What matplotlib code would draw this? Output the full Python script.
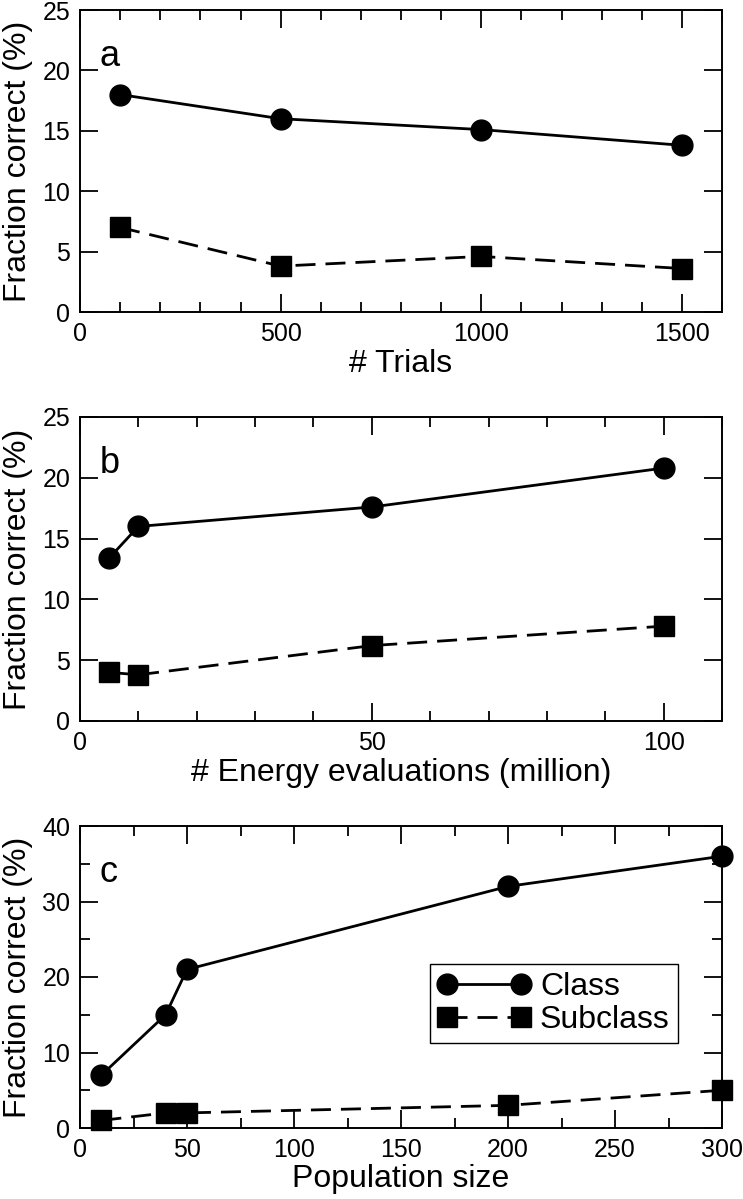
import matplotlib
matplotlib.use("Agg")
import matplotlib.pyplot as plt
from matplotlib.ticker import MultipleLocator

plt.rcParams['font.family'] = ['Liberation Sans', 'DejaVu Sans']

# panel a
trials = [100, 500, 1000, 1500]
trials_class = [18.0, 16.0, 15.1, 13.8]
trials_subclass = [7.0, 3.8, 4.6, 3.6]

# panel b
evals = [5, 10, 50, 100]
evals_class = [13.4, 16.0, 17.6, 20.8]
evals_subclass = [4.0, 3.8, 6.2, 7.8]

# panel c
popsize = [10, 40, 50, 200, 300]
pop_class = [7.0, 15.0, 21.0, 32.0, 36.0]
pop_subclass = [1.0, 2.0, 2.0, 3.0, 5.0]

W, H = 743, 1199
fig = plt.figure(figsize=(W / 100, H / 100), dpi=100)

left = 80 / W
width = 642 / W


def make_axes(top_px, bottom_px):
    return fig.add_axes([left, 1 - bottom_px / H, width, (bottom_px - top_px) / H])


def style_axes(ax, xlim, ylim, xmaj, xmin, ymaj, ymin, xlabel, letter):
    ax.set_xlim(*xlim)
    ax.set_ylim(*ylim)
    ax.xaxis.set_major_locator(MultipleLocator(xmaj))
    ax.xaxis.set_minor_locator(MultipleLocator(xmin))
    ax.yaxis.set_major_locator(MultipleLocator(ymaj))
    if ymin:
        ax.yaxis.set_minor_locator(MultipleLocator(ymin))
    ax.tick_params(which='both', direction='in', top=True, right=True,
                   width=1.3, labelsize=18, pad=7)
    ax.tick_params(which='major', length=13)
    ax.tick_params(which='minor', length=7)
    for s in ax.spines.values():
        s.set_linewidth(1.4)
    ax.set_xlabel(xlabel, fontsize=23, labelpad=2)
    ax.set_ylabel('Fraction correct (%)', fontsize=23, labelpad=7)
    ax.text(0.031, 0.815, letter, transform=ax.transAxes, fontsize=26,
            ha='left', va='baseline')


def plot_series(ax, x, yc, ys):
    ax.plot(x, yc, '-', color='black', lw=2.0, marker='o', ms=15,
            label='Class', clip_on=False, zorder=3)
    ax.plot(x, ys, color='black', lw=2.0, ls=(0, (7.2, 3.6)), marker='s', ms=14,
            label='Subclass', clip_on=False, zorder=3)


ax1 = make_axes(10, 312)
plot_series(ax1, trials, trials_class, trials_subclass)
style_axes(ax1, (0, 1600), (0, 25), 500, 100, 5, None, '# Trials', 'a')

ax2 = make_axes(417, 721)
plot_series(ax2, evals, evals_class, evals_subclass)
style_axes(ax2, (0, 110), (0, 25), 50, 10, 5, None,
           '# Energy evaluations (million)', 'b')

ax3 = make_axes(826, 1128)
plot_series(ax3, popsize, pop_class, pop_subclass)
style_axes(ax3, (0, 300), (0, 40), 50, 25, 10, 5, 'Population size', 'c')

leg = ax3.legend(loc='lower right', bbox_to_anchor=(0.931, 0.281),
                 borderaxespad=0, fontsize=23, numpoints=2, handlelength=2.9,
                 handletextpad=0.3, labelspacing=0.1, borderpad=0.25,
                 fancybox=False, framealpha=1, edgecolor='black')
leg.get_frame().set_linewidth(1.0)

fig.savefig('out.png', dpi=100)
